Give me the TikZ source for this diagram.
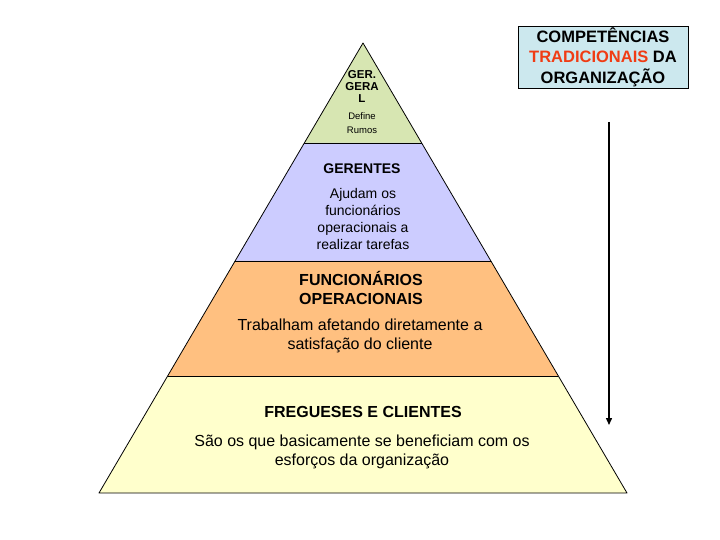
\documentclass[tikz,border=0pt]{standalone}
\usepackage{fontspec}
\setmainfont{Liberation Sans}
\usetikzlibrary{arrows.meta,calc}

\definecolor{nivelverde}{RGB}{215,230,178}
\definecolor{nivelazul}{RGB}{204,204,255}
\definecolor{nivellaranja}{RGB}{255,192,128}
\definecolor{nivelamarelo}{RGB}{255,255,204}
\definecolor{caixaazul}{RGB}{204,232,238}
\definecolor{vermelho}{RGB}{240,60,20}

\tikzset{
  nivel/.style={draw=black, line width=0.8pt, line join=round},
  rotulo/.style={align=center, inner sep=0pt},
  seta/.style={-{Triangle[width=6pt,length=7pt]}, line width=1.4pt},
}

\begin{document}
\begin{tikzpicture}[x=1pt, y=-1pt]
\useasboundingbox (0,0) rectangle (720,540);

% piramide
\coordinate (topo) at (363,43);
\coordinate (baseE) at (99,493);
\coordinate (baseD) at (627,493);
\coordinate (c1E) at ($(topo)!0.2222!(baseE)$);
\coordinate (c1D) at ($(topo)!0.2222!(baseD)$);
\coordinate (c2E) at ($(topo)!0.4844!(baseE)$);
\coordinate (c2D) at ($(topo)!0.4844!(baseD)$);
\coordinate (c3E) at ($(topo)!0.74!(baseE)$);
\coordinate (c3D) at ($(topo)!0.74!(baseD)$);

\fill[nivelverde] (topo) -- (c1E) -- (c1D) -- cycle;
\fill[nivelazul] (c1E) -- (c2E) -- (c2D) -- (c1D) -- cycle;
\fill[nivellaranja] (c2E) -- (c3E) -- (c3D) -- (c2D) -- cycle;
\fill[nivelamarelo] (c3E) -- (baseE) -- (baseD) -- (c3D) -- cycle;
\draw[nivel] (topo) -- (baseE) -- (baseD) -- cycle;
\draw[nivel] (c1E) -- (c1D);
\draw[nivel] (c2E) -- (c2D);
\draw[nivel] (c3E) -- (c3D);

% textos dos niveis
\node (geral) [rotulo, font=\bfseries\fontsize{11.5}{12}\selectfont] at (362,86) {GER.\\GERA\\L};
\node (define) [rotulo, font=\fontsize{9.5}{14}\selectfont] at (362,123) {Define\\Rumos};
\node (gerentes) [rotulo, font=\bfseries\fontsize{14}{17}\selectfont] at (362,169) {GERENTES};
\node (ajudam) [rotulo, font=\fontsize{14}{17}\selectfont] at (363,219) {Ajudam os\\funcionários\\operacionais a\\realizar tarefas};
\node (funcionarios) [rotulo, font=\bfseries\fontsize{16}{19}\selectfont] at (361,288) {FUNCIONÁRIOS\\OPERACIONAIS};
\node (trabalham) [rotulo, font=\fontsize{16}{19.5}\selectfont] at (360,336) {Trabalham afetando diretamente a\\satisfação do cliente};
\node (fregueses) [rotulo, font=\bfseries\fontsize{16}{19}\selectfont] at (363,412) {FREGUESES E CLIENTES};
\node (sao) [rotulo, font=\fontsize{16}{19.5}\selectfont] at (362,452) {São os que basicamente se beneficiam com os\\esforços da organização};

% caixa do titulo
\node (competencias) [draw=black, line width=0.8pt, fill=caixaazul, align=center, minimum width=170pt, minimum height=62pt, inner sep=0pt, font=\bfseries\fontsize{16.5}{20.5}\selectfont] at (603,57) {COMPETÊNCIAS\\\textcolor{vermelho}{TRADICIONAIS} DA\\ORGANIZAÇÃO};

% seta
\coordinate (setaIni) at (609,122);
\coordinate (setaFim) at (609,425);
\draw[seta] (setaIni) -- (setaFim);
\end{tikzpicture}
\end{document}
